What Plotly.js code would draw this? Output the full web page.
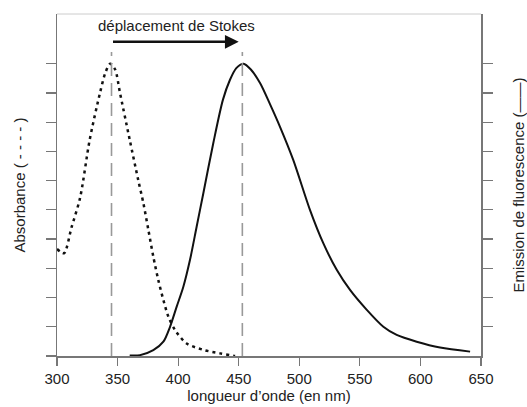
<!DOCTYPE html>
<html>
<head>
<meta charset="utf-8">
<script src="https://cdn.plot.ly/plotly-3.0.1.min.js"></script>
<style>html,body{margin:0;padding:0;background:#fff}#chart{width:527px;height:407px}</style>
</head>
<body>
<div id="chart"></div>
<script>
// Absorbance spectrum (dotted)
const absWavelength = [300, 303, 306, 312, 319, 327, 335.5, 340, 344, 348, 352, 360, 367, 371.3, 375.4, 379.5, 383.6, 387.8, 391.9, 397.4, 407, 420.8, 434.6, 445.6, 447];
const absValue      = [3.66, 3.56, 3.52, 4.4, 5.4, 7.4, 9.0, 9.7, 10.0, 9.8, 9.0, 7.4, 6.03, 5.23, 4.32, 3.4, 2.6, 1.92, 1.35, 0.89, 0.43, 0.21, 0.09, 0.01, 0.0];
// Fluorescence emission spectrum (solid)
const emWavelength = [360, 368.5, 379.5, 387.8, 393.3, 398.8, 404.3, 409.8, 415.3, 420.8, 429, 437, 442.8, 448, 454, 460, 467.6, 476, 484, 495, 508.8, 519.8, 530.9, 541.9, 555.7, 569.4, 580.4, 596.9, 616.2, 641];
const emValue      = [0.02, 0.03, 0.2, 0.49, 1.0, 1.69, 2.37, 3.29, 4.43, 5.57, 7.28, 8.77, 9.45, 9.85, 10.0, 9.8, 9.34, 8.6, 7.85, 6.71, 5.0, 3.86, 2.95, 2.26, 1.58, 1.0, 0.72, 0.49, 0.29, 0.15];
// Peak wavelengths (absorption max, emission max)
const peakWavelengths = [345, 453];
const xTicks = [300, 350, 400, 450, 500, 550, 600, 650];
const yTicksLeft = [0, 1, 2, 3, 4, 5, 6, 7, 8, 9, 10];
const yTicksRight = [1, 2, 3, 4, 5, 6, 7, 8, 9, 10];
const arrowLabel = 'déplacement de Stokes';

const FONT = 'Liberation Sans, Arial, Helvetica, sans-serif';
const YMAX = 11.7;

const traces = [
  {x: absWavelength, y: absValue, mode: 'lines', line: {color: '#111', width: 2.5, dash: '3px,4px', shape: 'spline', smoothing: 0.8}, yaxis: 'y', hoverinfo: 'skip'},
  {x: emWavelength, y: emValue, mode: 'lines', line: {color: '#111', width: 2, shape: 'spline', smoothing: 0.8}, yaxis: 'y2', hoverinfo: 'skip'}
];

const shapes = peakWavelengths.map(w => ({
  type: 'line', xref: 'x', yref: 'y', x0: w, x1: w, y0: 0, y1: 10.4,
  line: {color: '#999', width: 1.6, dash: '13px,7px'}
}));
shapes.push({type: 'line', xref: 'paper', yref: 'paper', x0: 0, x1: 1, y0: 1, y1: 1, line: {color: '#ccc', width: 1}});

const layout = {
  width: 527, height: 407,
  margin: {l: 57, r: 46, t: 14, b: 51},
  paper_bgcolor: '#fff', plot_bgcolor: '#fff',
  showlegend: false,
  font: {family: FONT, size: 15, color: '#222'},
  xaxis: {
    range: [300, 650], tickvals: xTicks, ticks: 'outside', ticklen: 8, tickwidth: 1.2, tickcolor: '#777',
    showline: true, linecolor: '#777', linewidth: 1.5, showgrid: false, zeroline: false,
    tickfont: {size: 15, color: '#222'},
    title: {text: 'longueur d’onde (en nm)', font: {size: 15, color: '#222'}, standoff: 4}
  },
  yaxis: {
    range: [0, YMAX], tickvals: yTicksLeft, ticks: 'outside', ticklen: 10, tickwidth: 1.2, tickcolor: '#777',
    showticklabels: false, showline: true, linecolor: '#777', linewidth: 1.5, showgrid: false, zeroline: false,
    title: {text: 'Absorbance ( - - - - )', font: {size: 15, color: '#222'}, standoff: 16}
  },
  yaxis2: {
    range: [0, YMAX], tickvals: yTicksRight, ticks: 'outside', ticklen: 10, tickwidth: 1.2, tickcolor: '#777',
    showticklabels: false, showline: true, linecolor: '#777', linewidth: 1.5, showgrid: false, zeroline: false,
    overlaying: 'y', side: 'right',
    title: {text: 'Emission de fluorescence (——)', font: {size: 15, color: '#222'}, standoff: 22}
  },
  shapes: shapes,
  annotations: [
    {x: 450, y: 10.75, ax: peakWavelengths[0], ay: 10.75, xref: 'x', yref: 'y', axref: 'x', ayref: 'y',
     showarrow: true, arrowhead: 2, arrowsize: 1.1, arrowwidth: 2.5, arrowcolor: '#111', text: ''},
    {x: (peakWavelengths[0] + peakWavelengths[1]) / 2, y: 11.3, xref: 'x', yref: 'y', showarrow: false,
     text: arrowLabel, font: {size: 15, color: '#222'}}
  ]
};

Plotly.newPlot('chart', traces, layout, {displayModeBar: false, staticPlot: true});
</script>
</body>
</html>
